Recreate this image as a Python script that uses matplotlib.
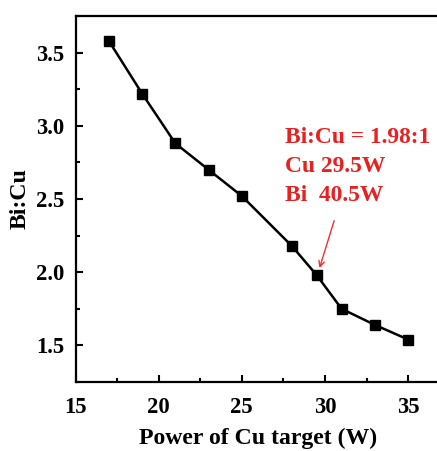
import matplotlib
matplotlib.use('Agg')
import matplotlib.pyplot as plt
from matplotlib.ticker import MultipleLocator, FormatStrFormatter

plt.rcParams['font.family'] = 'Liberation Serif'
plt.rcParams['font.weight'] = 'bold'
plt.rcParams['axes.linewidth'] = 1.6

# Data
cu_power = [17, 19, 21, 23, 25, 28, 29.5, 31, 33, 35]
bi_cu_ratio = [3.58, 3.22, 2.88, 2.70, 2.52, 2.18, 1.98, 1.75, 1.64, 1.54]

fig = plt.figure(figsize=(4.37, 4.51), dpi=100)
ax = fig.add_axes([0.173, 0.153, 0.837, 0.8115])

ax.plot(cu_power, bi_cu_ratio, color='black', linewidth=1.8,
        marker='s', markersize=6.5, markerfacecolor='black')

ax.set_xlim(15, 37)
ax.set_ylim(1.25, 3.75)
ax.xaxis.set_major_locator(MultipleLocator(5))
ax.xaxis.set_minor_locator(MultipleLocator(2.5))
ax.yaxis.set_major_locator(MultipleLocator(0.5))
ax.yaxis.set_minor_locator(MultipleLocator(0.25))
ax.yaxis.set_major_formatter(FormatStrFormatter('%.1f'))

ax.tick_params(which='both', direction='in', width=1.5, labelsize=16.3)
ax.tick_params(which='major', length=5)
ax.tick_params(which='minor', length=3)
ax.tick_params(axis='x', which='major', pad=10.5)
ax.tick_params(axis='y', which='major', pad=8)

ax.set_xlabel('Power of Cu target (W)', fontsize=17.1, fontweight='bold',
              labelpad=7.5)
ax.set_ylabel('Bi:Cu', fontsize=17.1, fontweight='bold')

ax.text(27.6, 2.72, 'Bi:Cu = 1.98:1\nCu 29.5W\nBi  40.5W', color='#e82020',
        fontsize=16.9, fontweight='bold', va='center', ha='left', linespacing=1.5)
ax.annotate('', xy=(29.62, 2.01), xytext=(30.6, 2.37),
            arrowprops=dict(arrowstyle='->', color='#ee3030', lw=1.0))

fig.savefig('out.png', dpi=100)
